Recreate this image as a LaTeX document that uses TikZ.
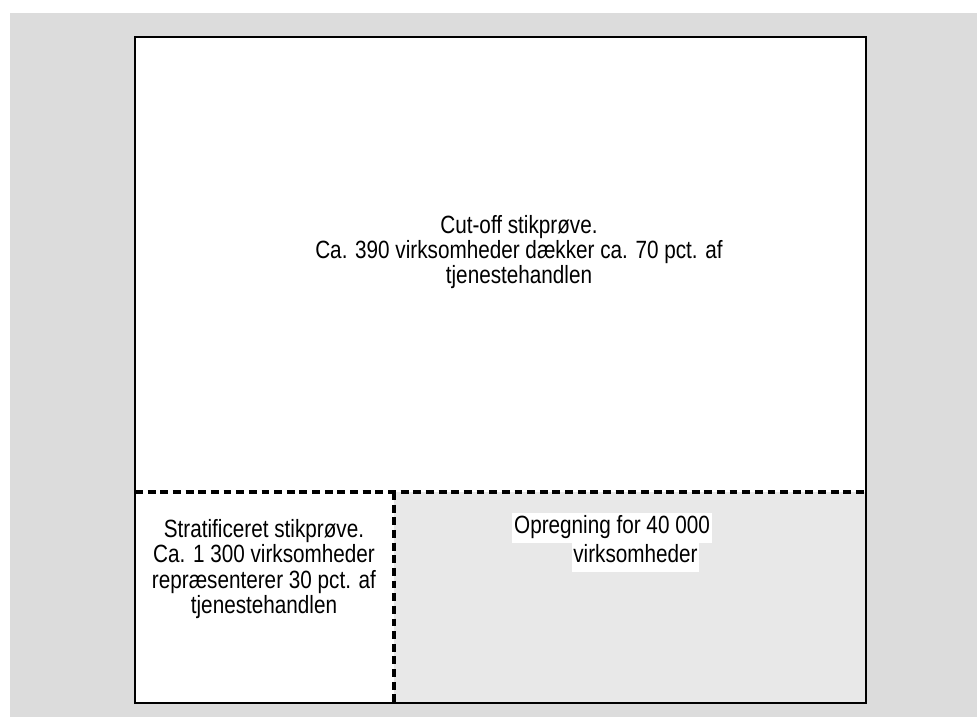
\documentclass[tikz,border=0pt]{standalone}
\usepackage{fontspec}
\setmainfont{Liberation Sans}[FakeStretch=0.83]
\usepackage{xcolor}
\usepackage{tikz}

\definecolor{pagegray}{HTML}{DCDCDC}
\definecolor{restgray}{HTML}{E8E8E8}

\begin{document}
\begin{tikzpicture}[
            x=0.02cm, y=-0.02cm,
            txt/.style={align=center, font=\fontsize{14.2}{14.4}\selectfont},
            tag/.style={fill=white, inner xsep=1pt, inner ysep=0pt, text height=11.5pt, text depth=5.5pt, font=\fontsize{14.2}{14.4}\selectfont},
            divider/.style={line width=1.8pt, dash pattern=on 4.5pt off 2.7pt}
        ]
            \useasboundingbox (0,0) rectangle (977,717);

            % --- BACKGROUND ---
            \fill[pagegray] (10,13) rectangle (977,717);
            \fill[white] (135,37) rectangle (866,703);
            \fill[restgray] (394,492) rectangle (866,703);

            % --- DIVIDERS ---
            \draw[divider] (135,492) -- (866,492);
            \draw[divider] (394,492) -- (394,703);
            \draw[line width=1.2pt] (135,37) rectangle (866,703);

            % --- TEXTS ---
            \node[txt] (cutoff) at (519,252) {Cut-off stikprøve.\\Ca. 390 virksomheder dækker ca. 70 pct. af\\tjenestehandlen};
            \node[txt] (strat) at (264,569) {Stratificeret stikprøve.\\Ca. 1 300 virksomheder\\repræsenterer 30 pct. af\\tjenestehandlen};
            \node[tag] (opreg1) at (612,528) {Opregning for 40 000};
            \node[tag] (opreg2) at (635.5,557.5) {virksomheder};

        \end{tikzpicture}
\end{document}
